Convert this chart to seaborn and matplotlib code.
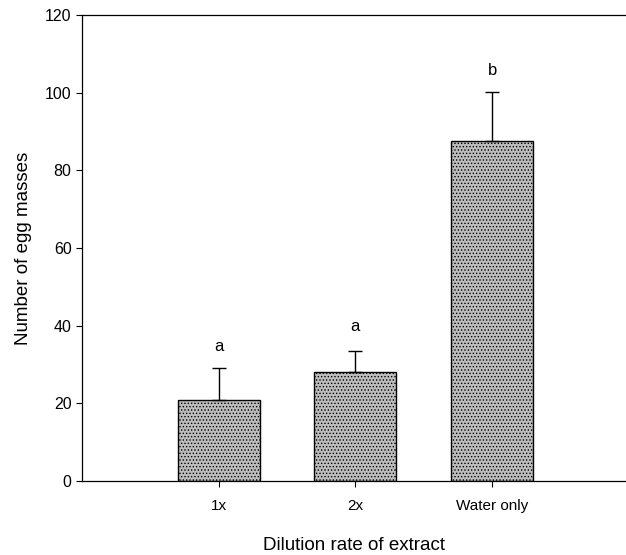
import matplotlib
matplotlib.use('Agg')
import matplotlib.pyplot as plt
import pandas as pd
import seaborn as sns

# Data
categories = ['1x', '2x', 'Water only']
means = [21.0, 28.1, 87.6]
errors = [8.2, 5.4, 12.5]
letters = ['a', 'a', 'b']
letter_y = [34.6, 39.7, 105.8]

df = pd.DataFrame({'dilution': categories, 'masses': means})

sns.set_theme(style='white')
plt.rcParams['font.family'] = ['Liberation Sans', 'DejaVu Sans']
plt.rcParams['text.color'] = 'black'
plt.rcParams['axes.labelcolor'] = 'black'
plt.rcParams['xtick.color'] = 'black'
plt.rcParams['ytick.color'] = 'black'
plt.rcParams['hatch.color'] = '#6a6a6a'
plt.rcParams['hatch.linewidth'] = 0.6

fig, ax = plt.subplots(figsize=(6.26, 5.55), dpi=100)
fig.subplots_adjust(left=0.131, right=1.0, top=0.973, bottom=0.133)

sns.barplot(data=df, x='dilution', y='masses', color='#bdbdbd', width=0.6,
            edgecolor='black', linewidth=1.0, saturation=1, errorbar=None, ax=ax)
for bar in ax.patches:
    bar.set_hatch('.....')

ax.errorbar(range(len(categories)), means, yerr=[[0] * len(errors), errors],
            fmt='none', ecolor='black', elinewidth=1.0, capsize=5, capthick=1.0)

for i, (lab, ly) in enumerate(zip(letters, letter_y)):
    ax.text(i, ly, lab, ha='center', va='center', fontsize=12)

ax.set_xlim(-1, 2.98)
ax.set_ylim(0, 120)
ax.set_yticks(range(0, 121, 20))
ax.set_xlabel('Dilution rate of extract', fontsize=13.5, labelpad=17)
ax.set_ylabel('Number of egg masses', fontsize=13.5, labelpad=9)
ax.tick_params(axis='both', which='both', direction='out', length=4, width=0.8,
               labelsize=11.5, bottom=True, left=True)
ax.tick_params(axis='x', labelsize=11, pad=9)

for side in ['left', 'top', 'bottom']:
    ax.spines[side].set_color('black')
    ax.spines[side].set_linewidth(0.9)
ax.spines['right'].set_visible(False)

fig.savefig('out.png', dpi=100)
